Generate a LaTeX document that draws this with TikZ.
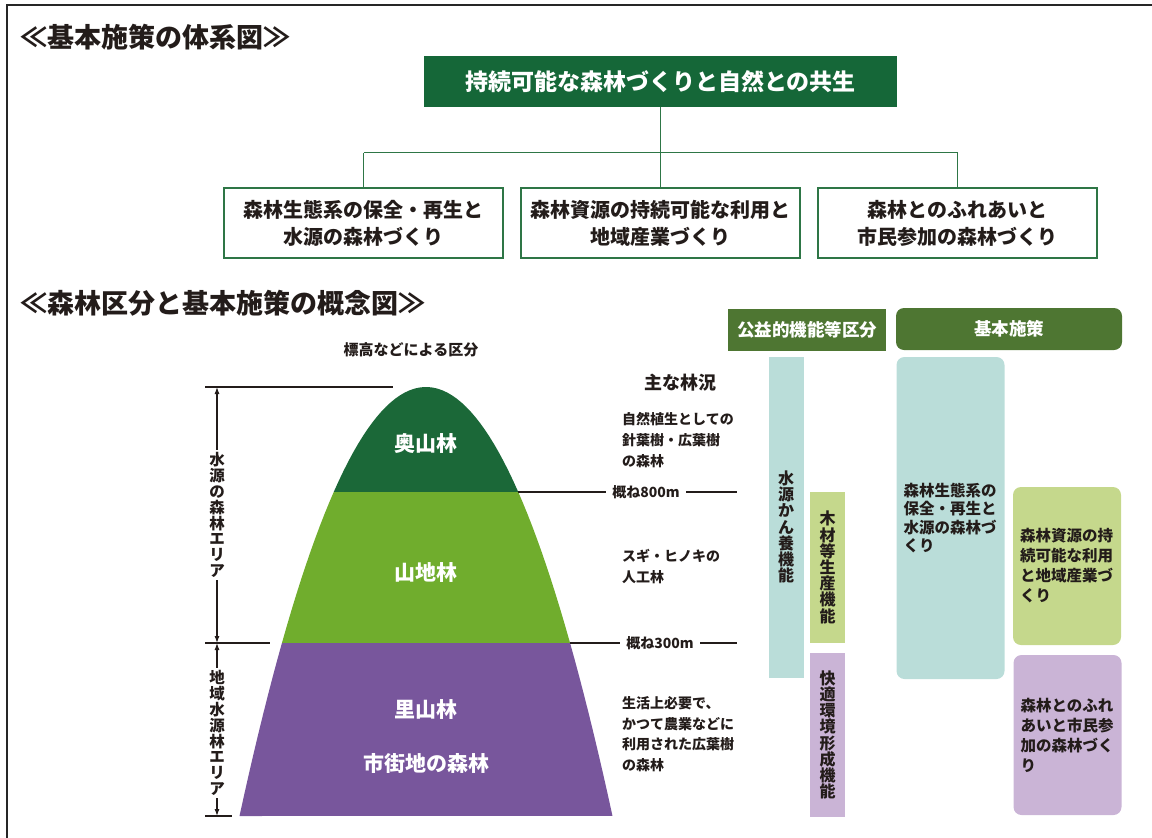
\documentclass[tikz,border=0pt]{standalone}
\usepackage{fontspec}
\setmainfont{Noto Sans CJK JP}
\usetikzlibrary{arrows.meta}
\definecolor{ink}{RGB}{35,28,26}
\definecolor{topgreen}{RGB}{21,103,56}
\definecolor{linegreen}{RGB}{46,118,70}
\definecolor{deepforest}{RGB}{27,104,56}
\definecolor{hillforest}{RGB}{112,173,45}
\definecolor{satoforest}{RGB}{120,86,156}
\definecolor{headgreen}{RGB}{78,118,50}
\definecolor{waterbar}{RGB}{186,221,217}
\definecolor{woodbar}{RGB}{197,216,140}
\definecolor{comfortbar}{RGB}{202,180,214}
\begin{document}
\begin{tikzpicture}
  [x=1pt,y=-1pt,
   every node/.style={inner sep=0pt,text=ink},
   heading/.style={anchor=west,font=\fontsize{27}{30}\selectfont\bfseries},
   topbox/.style={fill=topgreen,text=white,minimum width=473pt,minimum height=51pt,font=\fontsize{23}{26}\selectfont\bfseries},
   policy/.style={draw=linegreen,line width=1.6pt,fill=white,minimum width=279pt,minimum height=70pt,align=center,font=\fontsize{20}{27}\selectfont\bfseries},
   link/.style={draw=linegreen,line width=1.6pt},
   zone/.style={text=white,font=\fontsize{21}{24}\selectfont\bfseries},
   vlabel/.style={fill=white,align=center,inner ysep=3pt,font=\fontsize{15.5}{15.8}\selectfont\bfseries},
   note/.style={anchor=west,align=left,font=\fontsize{14}{21}\selectfont\bfseries},
   altitude/.style={fill=white,inner xsep=6pt,font=\fontsize{14}{16}\selectfont\bfseries},
   header/.style={fill=headgreen,text=white,minimum height=42pt,font=\fontsize{17.5}{20}\selectfont\bfseries},
   funcbar/.style={minimum width=35pt,align=center,font=\fontsize{16}{16.2}\selectfont\bfseries},
   thinline/.style={draw=ink,line width=1.1pt},
   measure/.style={thinline,{Latex[length=7pt,width=5pt]}-{Latex[length=7pt,width=5pt]}},
   aim/.style={rounded corners=8pt,minimum width=108pt,text width=94pt,align=left,font=\fontsize{15.5}{20}\selectfont\bfseries}]

  \useasboundingbox (0,0) rectangle (1152,838);
  \draw[line width=2pt,black!85] (7,838) -- (7,5) -- (1152,5);

  % titles
  \node[heading] (title1) at (20,37) {≪基本施策の体系図≫};
  \node[heading] (title2) at (20,303) {≪森林区分と基本施策の概念図≫};

  % policy tree
  \node[topbox] (goal) at (660.5,81.5) {持続可能な森林づくりと自然との共生};
  \node[policy] (pol1) at (363.5,223) {森林生態系の保全・再生と\\水源の森林づくり};
  \node[policy] (pol2) at (660.5,223) {森林資源の持続可能な利用と\\地域産業づくり};
  \node[policy] (pol3) at (957.5,223) {森林とのふれあいと\\市民参加の森林づくり};
  \coordinate (bus) at (0,152.5);
  \draw[link] (goal.south) -- (goal.south |- bus);
  \draw[link] (pol1.north |- bus) -- (pol3.north |- bus);
  \foreach \p in {pol1,pol2,pol3}
    \draw[link] (\p.north) -- (\p.north |- bus);

  % mountain
  \begin{scope}
    \clip plot[variable=\t,domain=-1:1,samples=80] ({426+186.5*\t},{387+429*\t*\t}) -- cycle;
    \fill[deepforest] (200,380) rectangle (650,492);
    \fill[hillforest] (200,492) rectangle (650,643);
    \fill[satoforest] (200,643) rectangle (650,820);
  \end{scope}
  \node[zone] (oku) at (426,444) {奥山林};
  \node[zone] (sanchi) at (426,572) {山地林};
  \node[zone] (sato) at (426,709) {里山林};
  \node[zone] (city) at (426,763) {市街地の森林};

  \node[font=\fontsize{15}{17}\selectfont\bfseries] (bytitle) at (411,350) {標高などによる区分};

  % left dimension
  \coordinate (top) at (217,387);
  \coordinate (mid) at (217,643);
  \coordinate (bot) at (217,816);
  \draw[thinline] (205,387) -- (393,387);
  \draw[thinline] (205,643) -- (270,643);
  \draw[thinline] (205,816) -- (232,816);
  \draw[measure] (top) -- (mid);
  \draw[measure] (mid) -- (bot);
  \node[vlabel] (water) at (217,515) {水\\源\\の\\森\\林\\エ\\リ\\ア};
  \node[vlabel] (local) at (217,733) {地\\域\\水\\源\\林\\エ\\リ\\ア};

  % altitude lines
  \coordinate (e800) at (518.3,492);
  \coordinate (x800) at (737,492);
  \coordinate (e300) at (570,643);
  \coordinate (x300) at (737,643);
  \draw[thinline] (e800) -- (x800);
  \draw[thinline] (e300) -- (x300);
  \node[altitude] (m800) at (646,492) {概ね800m};
  \node[altitude] (m300) at (660,643) {概ね300m};

  % forest conditions
  \node[font=\fontsize{18}{20}\selectfont\bfseries] (cond) at (680,383) {主な林況};
  \node[note] (n1) at (622,440) {自然植生としての\\針葉樹・広葉樹\\の森林};
  \node[note] (n2) at (622,567) {スギ・ヒノキの\\人工林};
  \node[note,font=\fontsize{14}{20.5}\selectfont\bfseries] (n3) at (622,734) {生活上必要で、\\かつて農業などに\\利用された広葉樹\\の森林};

  % function bars
  \node[header,minimum width=158pt] (fhead) at (807,329.5) {公益的機能等区分};
  \node[funcbar,fill=waterbar,minimum height=321pt] (fwater) at (786,517.5) {};
  \node[funcbar] (fwatertxt) at (786,527) {水\\源\\か\\ん\\養\\機\\能};
  \node[funcbar,fill=woodbar,minimum height=151pt] (fwood) at (827.5,567.5) {木\\材\\等\\生\\産\\機\\能};
  \node[funcbar,fill=comfortbar,minimum height=164pt] (fcomfort) at (827.5,735) {快\\適\\環\\境\\形\\成\\機\\能};

  % basic policies
  \node[header,rounded corners=8pt,minimum width=226pt] (phead) at (1009,329) {基本施策};
  \node[aim,fill=waterbar,minimum height=322pt,font=\fontsize{15.5}{18.5}\selectfont\bfseries] (aim1) at (950.5,518) {森林生態系の\\保全・再生と\\水源の森林づ\\くり};
  \node[aim,fill=woodbar,minimum height=158pt] (aim2) at (1067,566) {森林資源の持\\続可能な利用\\と地域産業づ\\くり};
  \node[aim,fill=comfortbar,minimum height=160pt] (aim3) at (1067.5,735) {森林とのふれ\\あいと市民参\\加の森林づく\\り};
\end{tikzpicture}
\end{document}
